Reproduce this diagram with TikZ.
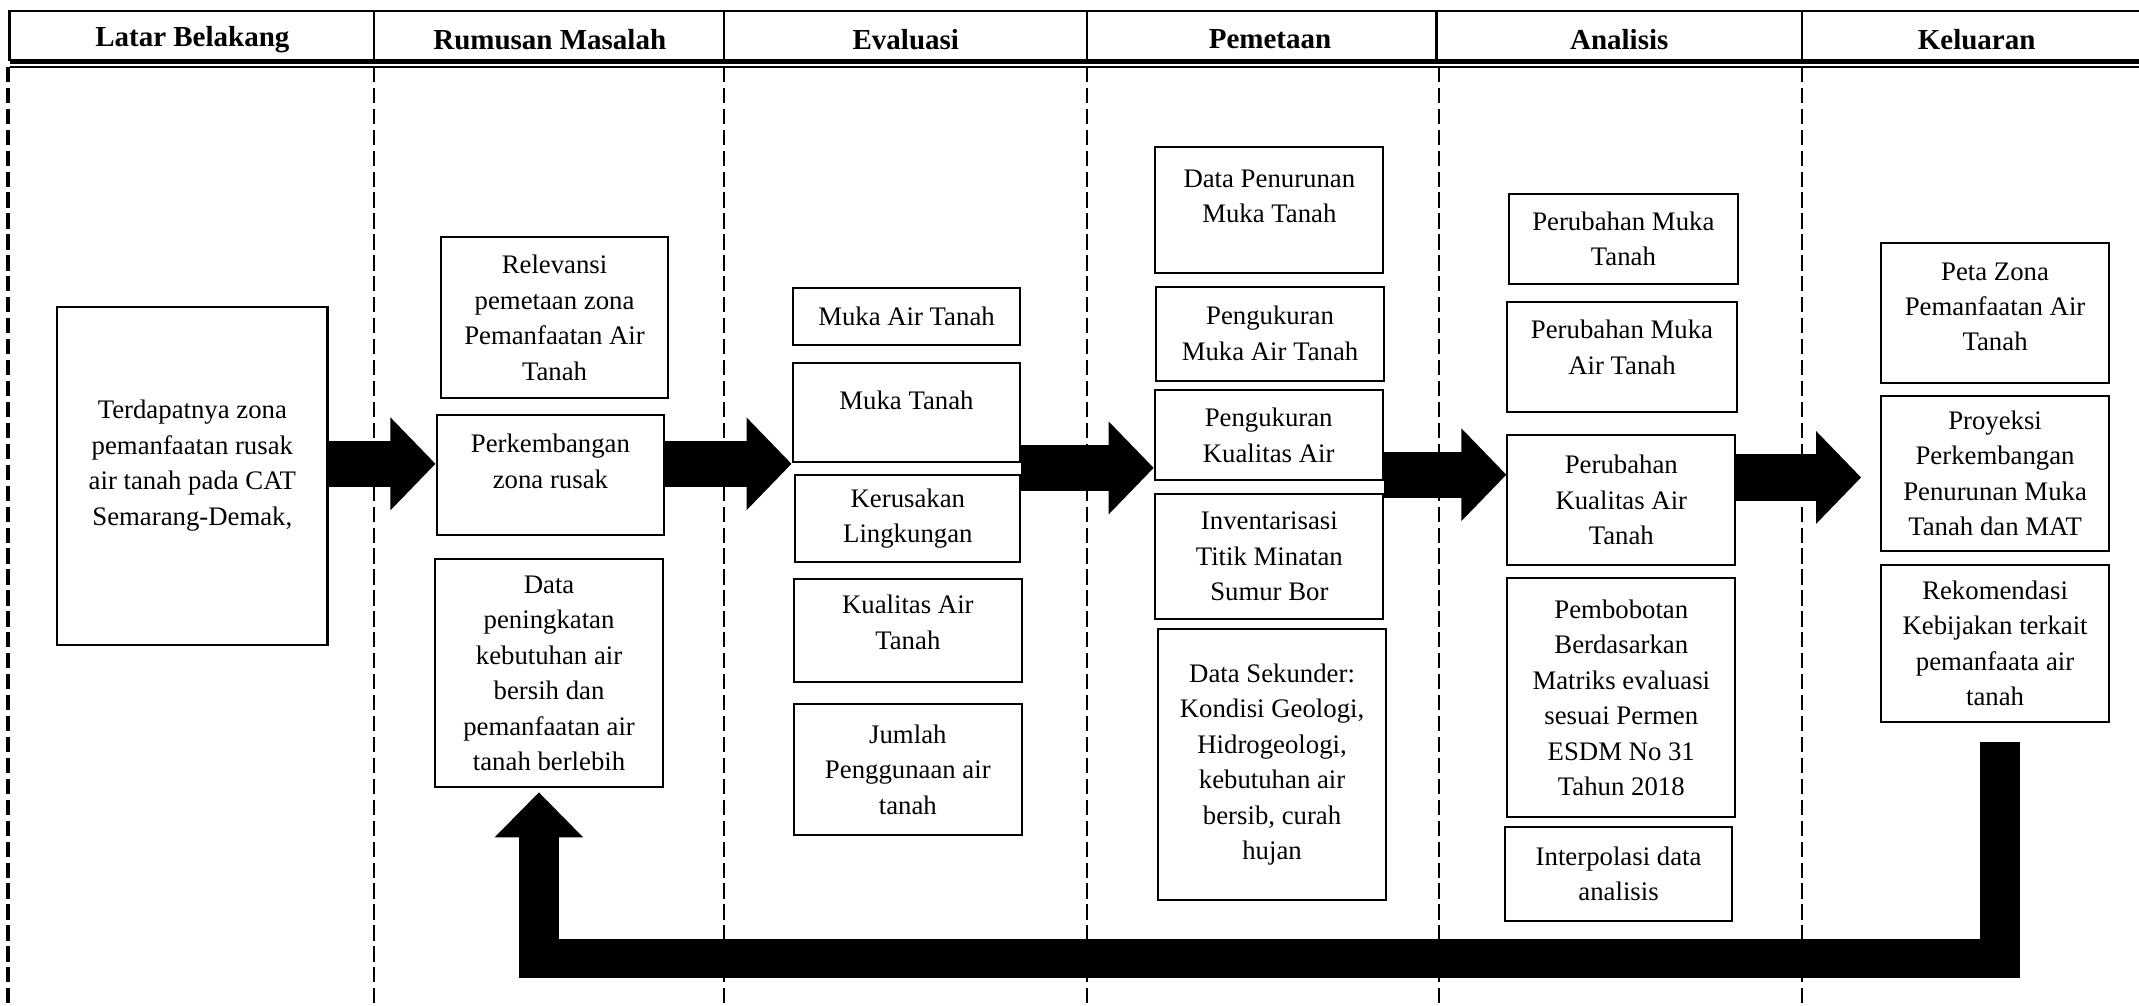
\documentclass[tikz,border=0pt]{standalone}
\usepackage{fontspec}
\setmainfont{Liberation Serif}
\usetikzlibrary{arrows.meta, positioning}

\tikzset{
  box/.style={draw, line width=0.9pt, align=center, inner sep=2pt, minimum width=3.59cm, font=\fontsize{12}{15.9}\selectfont},
  lift/.style={text depth=#1},
  bigarrow/.style={line width=0.73cm, -{Triangle[width=1.42cm, length=0.71cm]}},
  backarrow/.style={line width=0.62cm, -{Triangle[width=1.35cm, length=0.71cm]}},
  divider/.style={line width=1pt, dash pattern=on 0.24cm off 0.09cm},
  colhead/.style={font=\fontsize{13}{15}\selectfont\bfseries}
}

\begin{document}
\begin{tikzpicture}[x=0.0215cm, y=-0.0215cm]
  \useasboundingbox (0,0) rectangle (1568,737);
  % Header row
  \draw[line width=1.2pt] (7,45) -- (7,8) -- (1568,8);
  \draw[line width=2pt] (7,45) -- (1568,45);
  \draw[line width=0.7pt] (7,49) -- (1568,49);
  \foreach \x in {274,531,797,1053,1321}
    \draw[line width=1pt] (\x,8) -- (\x,45);
  \node[colhead] (hlatar) at (141,29) {Latar Belakang};
  \node[colhead] (hrumusan) at (403,29) {Rumusan Masalah};
  \node[colhead] (hevaluasi) at (664,29) {Evaluasi};
  \node[colhead] (hpemetaan) at (931,29) {Pemetaan};
  \node[colhead] (hanalisis) at (1187,29) {Analisis};
  \node[colhead] (hkeluaran) at (1449,29) {Keluaran};
  % Column dividers
  \draw[divider, line width=2pt] (6,49) -- (6,737);
  \foreach \x in {274,531,797,1055,1321}
    \draw[divider] (\x,49) -- (\x,737);
  % Latar Belakang
  \node[box, lift=0.42cm, minimum width=4.26cm, minimum height=5.33cm] (latar) at (141,349)
    {Terdapatnya zona\\pemanfaatan rusak\\air tanah pada CAT\\Semarang-Demak,};
  % Rumusan Masalah
  \node[box, minimum height=2.54cm] (relev) at (406.5,233) {Relevansi\\pemetaan zona\\Pemanfaatan Air\\Tanah};
  \node[box, lift=0.43cm, minimum height=1.89cm] (perkem) at (403.5,348) {Perkembangan\\zona rusak};
  \node[box, minimum height=3.59cm] (datapen) at (402.5,493.5)
    {Data\\peningkatan\\kebutuhan air\\bersih dan\\pemanfaatan air\\tanah berlebih};
  % Evaluasi
  \node[box, minimum height=0.90cm] (mat) at (664.5,232) {Muka Air Tanah};
  \node[box, lift=0.39cm, minimum height=1.57cm] (mt) at (664.5,302.5) {Muka Tanah};
  \node[box, minimum width=3.55cm, minimum height=1.38cm] (kerus) at (665.5,380) {Kerusakan\\Lingkungan};
  \node[box, lift=0.26cm, minimum height=1.63cm] (kual) at (665.5,462) {Kualitas Air\\Tanah};
  \node[box, minimum height=2.06cm] (jumlah) at (665.5,564) {Jumlah\\Penggunaan air\\tanah};
  % Pemetaan
  \node[box, lift=0.43cm, minimum height=1.98cm] (dpmt) at (930.5,154) {Data Penurunan\\Muka Tanah};
  \node[box, minimum height=1.48cm] (ukmat) at (931,244.5) {Pengukuran\\Muka Air Tanah};
  \node[box, minimum height=1.42cm] (ukka) at (930,319) {Pengukuran\\Kualitas Air};
  \node[box, minimum height=1.98cm] (inv) at (930.5,408) {Inventarisasi\\Titik Minatan\\Sumur Bor};
  \node[box, minimum height=4.28cm] (dsek) at (932.5,560.5)
    {Data Sekunder:\\Kondisi Geologi,\\Hidrogeologi,\\kebutuhan air\\bersib, curah\\hujan};
  % Analisis
  \node[box, minimum width=3.61cm, minimum height=1.42cm] (pmt) at (1190,175) {Perubahan Muka\\Tanah};
  \node[box, lift=0.3cm, minimum width=3.61cm, minimum height=1.74cm] (pmat) at (1189,261.5) {Perubahan Muka\\Air Tanah};
  \node[box, minimum height=2.04cm] (pka) at (1188.5,366.5) {Perubahan\\Kualitas Air\\Tanah};
  \node[box, minimum height=3.76cm] (bobot) at (1188.5,511.5)
    {Pembobotan\\Berdasarkan\\Matriks evaluasi\\sesuai Permen\\ESDM No 31\\Tahun 2018};
  \node[box, minimum height=1.48cm] (interp) at (1186.5,640.5) {Interpolasi data\\analisis};
  % Keluaran
  \node[box, lift=0.2cm, minimum height=2.21cm] (peta) at (1462.5,229.5) {Peta Zona\\Pemanfaatan Air\\Tanah};
  \node[box, minimum height=2.45cm] (proy) at (1462.5,347)
    {Proyeksi\\Perkembangan\\Penurunan Muka\\Tanah dan MAT};
  \node[box, minimum height=2.47cm] (rekom) at (1462.5,471.5)
    {Rekomendasi\\Kebijakan terkait\\pemanfaata air\\tanah};
  % Flow arrows
  \draw[bigarrow] (latar.east |- 0,340) -- (perkem.west |- 0,340);
  \draw[bigarrow] (perkem.east |- 0,340) -- (mt.west |- 0,340);
  \draw[bigarrow] (mt.east |- 0,343) -- (ukka.west |- 0,343);
  \draw[bigarrow] (ukka.east |- 0,348) -- (pka.west |- 0,348);
  \draw[bigarrow] (pka.east |- 0,350) -- ([xshift=-0.3cm]proy.west |- 0,350);
  % Feedback
  \draw[backarrow] ([xshift=0.075cm, yshift=-0.3cm]rekom.south) -- ++(0,159)
    -| ([xshift=-0.16cm, yshift=-0.065cm]datapen.south);
\end{tikzpicture}
\end{document}
